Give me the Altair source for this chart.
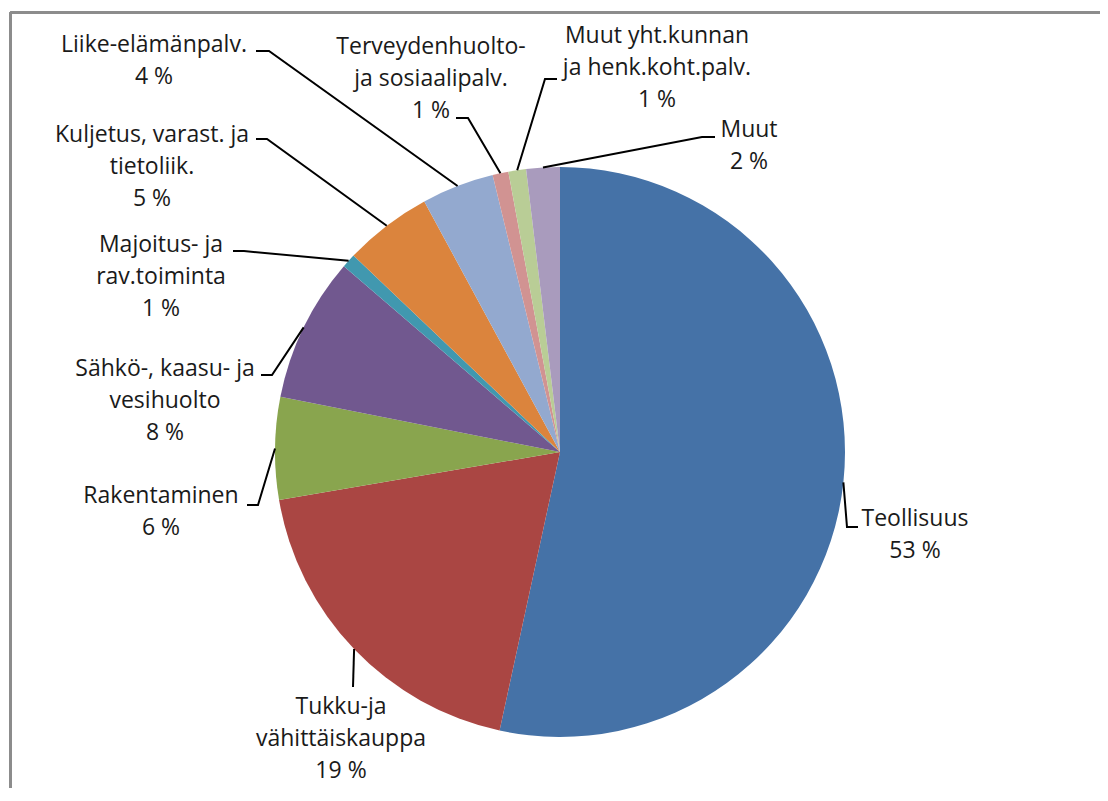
import math
import altair as alt
import pandas as pd

# ---- data ----
categories = [
    "Teollisuus",
    "Tukku-ja\nvähittäiskauppa",
    "Rakentaminen",
    "Sähkö-, kaasu- ja\nvesihuolto",
    "Majoitus- ja\nrav.toiminta",
    "Kuljetus, varast. ja\ntietoliik.",
    "Liike-elämänpalv.",
    "Terveydenhuolto-\nja sosiaalipalv.",
    "Muut yht.kunnan\nja henk.koht.palv.",
    "Muut",
]
shares = [53.4, 18.9, 5.8, 8.2, 0.8, 5.0, 4.1, 0.9, 1.0, 1.9]
colors = ["#4572A7", "#AA4643", "#89A54E", "#71588F", "#4198AF",
          "#DB843D", "#93A9CF", "#D19392", "#B9CD96", "#A99BBD"]

# ---- layout (page pixel coordinates) ----
OFF = 8
W, H = 1092, 780
CX, CY, R = 560 - OFF, 452 - OFF, 285
LINE_H = 32
FONT = "Open Sans"
FS = 23
# label block: centre x, first-line centre y
label_pos = [(915, 519), (341, 707), (161, 496), (165, 369), (161, 245),
             (152, 135), (154, 45), (431, 47), (657, 36), (749, 130)]
# leader: tail point, elbow point (the third point is on the slice edge)
leader_pts = [((858, 527), (847, 527)), ((353, 687), (353, 687)),
              ((247, 505), (258, 505)), ((261, 375), (272, 375)),
              ((233, 251), (244, 251)), ((256, 139), (267, 139)),
              ((256, 51), (269, 51)), ((456, 118), (468, 118)),
              ((557, 79), (545, 79)), ((715, 137), (702, 137))]

pie_df = pd.DataFrame({"cat": categories, "share": shares,
                       "idx": list(range(len(categories)))})

# text rows
trows = []
for i, (c, v) in enumerate(zip(categories, shares)):
    lines = c.split("\n") + [f"{round(v)} %"]
    lx, ly = label_pos[i]
    for j, t in enumerate(lines):
        trows.append({"t": t, "x": lx - OFF, "y": ly - OFF + j * LINE_H})
text_df = pd.DataFrame(trows)

# leader rows
lrows = []
total = sum(shares)
cum = 0.0
for i, v in enumerate(shares):
    mid = (cum + v / 2) / total * 2 * math.pi
    cum += v
    ex = CX + R * math.sin(mid)
    ey = CY - R * math.cos(mid)
    (tx, ty), (bx, by) = leader_pts[i]
    pts = [(tx - OFF, ty - OFF), (bx - OFF, by - OFF), (ex, ey)]
    for k, (px, py) in enumerate(pts):
        lrows.append({"g": i, "k": k, "x": px, "y": py})
lead_df = pd.DataFrame(lrows)

pie = alt.Chart(pie_df).mark_arc(radius=R).encode(
    theta=alt.Theta("share:Q", stack=True),
    order=alt.Order("idx:Q"),
    color=alt.Color("cat:N", scale=alt.Scale(domain=categories, range=colors), legend=None),
    x=alt.value(CX),
    y=alt.value(CY),
)

leaders = alt.Chart(lead_df).mark_line(color="#000000", strokeWidth=2).encode(
    x=alt.X("x:Q", scale=None, axis=None),
    y=alt.Y("y:Q", scale=None, axis=None),
    detail="g:N",
    order="k:Q",
)

texts = alt.Chart(text_df).mark_text(
    font=FONT, fontSize=FS, color="#1a1a1a", align="center", baseline="middle"
).encode(
    x=alt.X("x:Q", scale=None, axis=None),
    y=alt.Y("y:Q", scale=None, axis=None),
    text="t:N",
)

frame_left = alt.Chart(pie_df).mark_rule(color="#8c8c8c", strokeWidth=2).encode(
    x=alt.value(10.5 - OFF), y=alt.value(12.5 - OFF), y2=alt.value(H)
)
frame_top = alt.Chart(pie_df).mark_rule(color="#8c8c8c", strokeWidth=2).encode(
    x=alt.value(10.5 - OFF), x2=alt.value(W), y=alt.value(12.5 - OFF)
)

chart = alt.layer(frame_left, frame_top, pie, leaders, texts).properties(
    width=W, height=H, padding=0,
    autosize=alt.AutoSizeParams(type="none"),
).configure_view(strokeWidth=0)

chart.save("out.html", embed_options={"renderer": "svg", "actions": False})
